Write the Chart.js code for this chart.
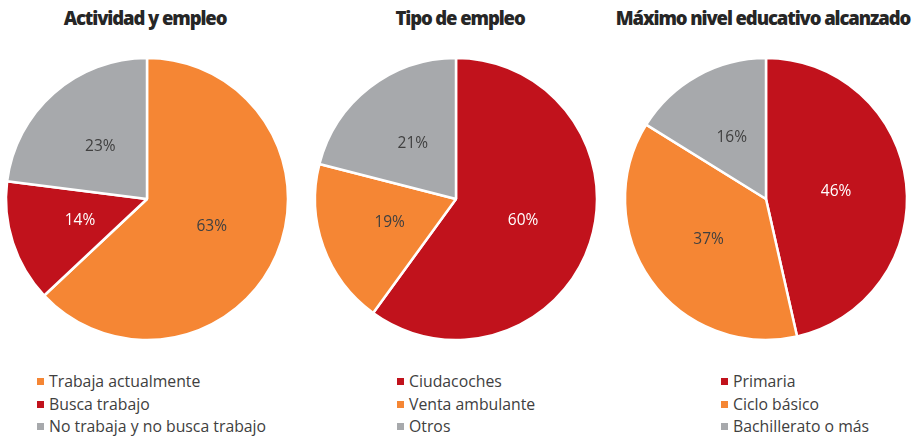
<!DOCTYPE html>
<html>
<head>
<meta charset="utf-8">
<script src="https://cdn.jsdelivr.net/npm/chart.js@4/dist/chart.umd.min.js"></script>
<style>
  body { margin: 0; background: #fff; width: 916px; height: 436px; position: relative; overflow: hidden; }
  .title { position: absolute; top: 5px; width: 320px; text-align: center; font-family: "Open Sans", sans-serif; font-weight: 800; font-size: 18.5px; letter-spacing: -1.1px; color: #262626; }
  .box { position: absolute; top: 49px; width: 300px; height: 300px; }
  .legend { position: absolute; top: 370px; font-family: "Open Sans", sans-serif; font-size: 15.8px; color: #404040; }
  .legend div { height: 22.5px; line-height: 22px; white-space: nowrap; }
  .legend span { display: inline-block; width: 7px; height: 7px; margin-right: 5px; vertical-align: 2px; }
</style>
</head>
<body>
<div class="title" style="left:-15px">Actividad y empleo</div>
<div class="title" style="left:300px">Tipo de empleo</div>
<div class="title" style="left:603px">Máximo nivel educativo alcanzado</div>
<div class="box" style="left:-3px"><canvas id="pie1"></canvas></div>
<div class="box" style="left:306px"><canvas id="pie2"></canvas></div>
<div class="box" style="left:616px"><canvas id="pie3"></canvas></div>
<div class="legend" id="leg1" style="left:37px"></div>
<div class="legend" id="leg2" style="left:397px"></div>
<div class="legend" id="leg3" style="left:721px"></div>
<script>
// colores
const naranja = '#F58634'
const rojo = '#C1121C'
const gris = '#A7A9AC'

// Actividad y empleo
const actividadLabels = ['Trabaja actualmente', 'Busca trabajo', 'No trabaja y no busca trabajo']
const actividadValues = [63, 14, 23]
const actividadColors = [naranja, rojo, gris]

// Tipo de empleo
const tipoLabels = ['Ciudacoches', 'Venta ambulante', 'Otros']
const tipoValues = [60, 19, 21]
const tipoColors = [rojo, naranja, gris]

// Maximo nivel educativo
const nivelLabels = ['Primaria', 'Ciclo básico', 'Bachillerato o más']
const nivelValues = [46, 37, 16]
const nivelColors = [rojo, naranja, gris]

// etiquetas de porcentaje dentro de cada porcion
const pctLabels = {
  id: 'pctLabels',
  afterDatasetsDraw(chart) {
    const ctx = chart.ctx
    const ds = chart.data.datasets[0]
    chart.getDatasetMeta(0).data.forEach((arc, i) => {
      const p = arc.getCenterPoint()
      ctx.save()
      ctx.font = '15.5px "Open Sans", sans-serif'
      ctx.fillStyle = ds.backgroundColor[i] == rojo ? '#ffffff' : '#404040'
      ctx.textAlign = 'center'
      ctx.textBaseline = 'middle'
      ctx.fillText(ds.data[i] + '%', p.x, p.y)
      ctx.restore()
    })
  }
}

function makePie(id, legId, labels, values, colors) {
  new Chart(document.getElementById(id), {
    type: 'pie',
    data: {
      labels: labels,
      datasets: [{
        data: values,
        backgroundColor: colors,
        borderColor: '#ffffff',
        borderWidth: 2.5
      }]
    },
    options: {
      responsive: false,
      animation: false,
      radius: 141,
      plugins: {
        legend: { display: false },
        tooltip: { enabled: false }
      }
    },
    plugins: [pctLabels]
  })
  const leg = document.getElementById(legId)
  labels.forEach((l, i) => {
    const row = document.createElement('div')
    row.innerHTML = '<span style="background:' + colors[i] + '"></span>' + l
    leg.appendChild(row)
  })
}

document.querySelectorAll('canvas').forEach(c => { c.width = 300; c.height = 300 })
makePie('pie1', 'leg1', actividadLabels, actividadValues, actividadColors)
makePie('pie2', 'leg2', tipoLabels, tipoValues, tipoColors)
makePie('pie3', 'leg3', nivelLabels, nivelValues, nivelColors)
</script>
</body>
</html>
